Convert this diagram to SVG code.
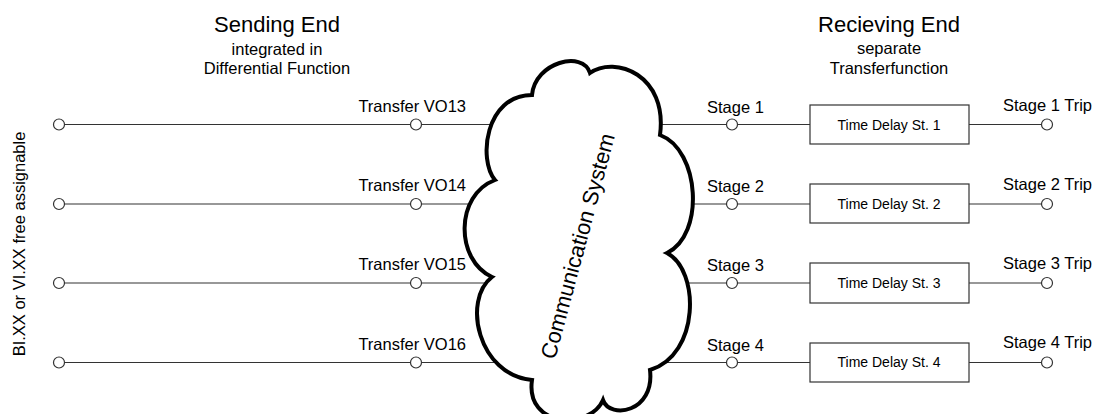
<svg xmlns="http://www.w3.org/2000/svg" width="1098" height="414" viewBox="0 0 1098 414">
<style>
text{font-family:"Liberation Sans",Arial,sans-serif;fill:#000}
.h{font-size:22px;text-anchor:middle}
.s{font-size:16.5px;text-anchor:middle}
.l{font-size:16.5px}
.b{font-size:14px;text-anchor:middle}
.ln{stroke:#333;stroke-width:1.2;fill:none}
.c{fill:#fff;stroke:#333;stroke-width:1.2}
.box{fill:#fff;stroke:#333;stroke-width:1.2}
</style>
<g id="headers">
<text class="h" x="277" y="32">Sending End</text>
<text class="s" x="277" y="55">integrated in</text>
<text class="s" x="277" y="74">Differential Function</text>
<text class="h" x="889" y="32">Recieving End</text>
<text class="s" x="889" y="54">separate</text>
<text class="s" x="889" y="74">Transferfunction</text>
<text class="l" transform="translate(25,244) rotate(-90)" text-anchor="middle">BI.XX or VI.XX free assignable</text>
</g>
<g id="connectors">
<path class="ln" d="M65 124.5H410M422 124.5H500M660 124.5H726M738 124.5H810M969 124.5H1041"/>
<path class="ln" d="M65 204H410M422 204H490M670 204H726M738 204H810M969 204H1041"/>
<path class="ln" d="M65 283H410M422 283H495M670 283H726M738 283H810M969 283H1041"/>
<path class="ln" d="M65 362.5H410M422 362.5H510M660 362.5H726M738 362.5H810M969 362.5H1041"/>
</g>
<g id="cloud">
<path d="M532 95C535 62 583 50 590 73C615 55 668 75 660 135C700 150 705 235 667 253C700 270 700 355 650 370C655 412 610 420 603 400C590 430 525 428 532 380C478 375 462 300 492 277C455 260 455 195 495 180C478 160 485 95 532 95Z" fill="#fff" stroke="#000" stroke-width="4" stroke-linejoin="miter"/>
<text class="h" font-size="20.5" transform="translate(585,248) rotate(-75)">Communication System</text>
</g>
<g id="row1">
<circle class="c" cx="59" cy="124.5" r="5.5"/>
<circle class="c" cx="416" cy="124.5" r="5.5"/>
<text class="l" x="466" y="112" text-anchor="end">Transfer VO13</text>
<circle class="c" cx="732" cy="124.5" r="5.5"/>
<text class="l" x="707" y="113">Stage 1</text>
<rect class="box" x="810" y="105" width="159" height="39"/>
<text class="b" x="889" y="130">Time Delay St. 1</text>
<circle class="c" cx="1047" cy="124.5" r="5.5"/>
<text class="l" x="1092" y="111" text-anchor="end">Stage 1 Trip</text>
</g>
<g id="row2">
<circle class="c" cx="59" cy="204" r="5.5"/>
<circle class="c" cx="416" cy="204" r="5.5"/>
<text class="l" x="466" y="191" text-anchor="end">Transfer VO14</text>
<circle class="c" cx="732" cy="204" r="5.5"/>
<text class="l" x="707" y="192">Stage 2</text>
<rect class="box" x="810" y="184" width="159" height="39"/>
<text class="b" x="889" y="209">Time Delay St. 2</text>
<circle class="c" cx="1047" cy="204" r="5.5"/>
<text class="l" x="1092" y="190" text-anchor="end">Stage 2 Trip</text>
</g>
<g id="row3">
<circle class="c" cx="59" cy="283" r="5.5"/>
<circle class="c" cx="416" cy="283" r="5.5"/>
<text class="l" x="466" y="270" text-anchor="end">Transfer VO15</text>
<circle class="c" cx="732" cy="283" r="5.5"/>
<text class="l" x="707" y="271">Stage 3</text>
<rect class="box" x="810" y="263" width="159" height="40"/>
<text class="b" x="889" y="288">Time Delay St. 3</text>
<circle class="c" cx="1047" cy="283" r="5.5"/>
<text class="l" x="1092" y="269" text-anchor="end">Stage 3 Trip</text>
</g>
<g id="row4">
<circle class="c" cx="59" cy="362.5" r="5.5"/>
<circle class="c" cx="416" cy="362.5" r="5.5"/>
<text class="l" x="466" y="350" text-anchor="end">Transfer VO16</text>
<circle class="c" cx="732" cy="362.5" r="5.5"/>
<text class="l" x="707" y="351">Stage 4</text>
<rect class="box" x="810" y="343" width="159" height="39"/>
<text class="b" x="889" y="367">Time Delay St. 4</text>
<circle class="c" cx="1047" cy="362.5" r="5.5"/>
<text class="l" x="1092" y="348" text-anchor="end">Stage 4 Trip</text>
</g>
</svg>
